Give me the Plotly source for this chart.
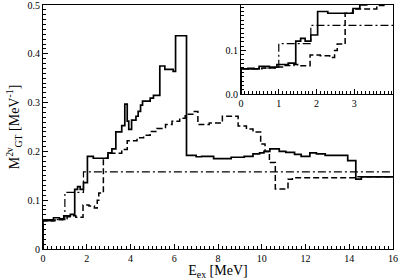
import plotly.graph_objects as go

# Solid line (step starts, values)
solid_x = [0, 0, 0.48, 0.75, 0.95, 1.25, 1.45, 1.58, 1.7, 1.85, 2.03, 2.3, 2.97, 3.15, 3.33, 3.6, 3.74, 3.85, 3.92,
           4.05, 4.25, 4.35, 4.46, 4.55, 4.9, 5.05, 5.34, 5.57, 5.95, 6.06, 6.56, 7.0, 7.25, 7.8, 8.6, 9.2, 9.6,
           9.9, 10.1, 10.37, 10.8, 11.1, 11.5, 11.8, 12.2, 12.5, 12.9, 13.93, 14.3, 14.55, 16]
solid_y = [0, 0.058, 0.064, 0.062, 0.068, 0.071, 0.122, 0.128, 0.122, 0.136, 0.19, 0.186, 0.197, 0.205, 0.24, 0.253, 0.297, 0.262, 0.245,
           0.264, 0.272, 0.282, 0.295, 0.303, 0.309, 0.315, 0.375, 0.368, 0.364, 0.437, 0.192, 0.189, 0.19, 0.185, 0.188, 0.19, 0.195,
           0.197, 0.2, 0.205, 0.2, 0.198, 0.194, 0.19, 0.197, 0.195, 0.192, 0.181, 0.143, 0.148, 0.148]

# Dashed line
dash_x = [0, 0, 0.55, 0.9, 1.1, 1.4, 1.5, 1.83, 2.1, 2.35, 2.48, 2.55, 2.76, 2.96, 3.6, 3.85, 4.3, 4.6, 4.9, 5.2, 5.6,
          5.9, 6.25, 6.5, 6.85, 7.08, 7.6, 8.2, 8.92, 9.3, 9.6, 9.95, 10.15, 10.35, 10.62, 11.2, 11.4, 14.4, 16]
dash_y = [0, 0.058, 0.06, 0.062, 0.066, 0.068, 0.065, 0.09, 0.088, 0.084, 0.1, 0.115, 0.186, 0.196, 0.204, 0.222, 0.228, 0.233, 0.241, 0.247, 0.255,
          0.262, 0.268, 0.276, 0.282, 0.255, 0.258, 0.272, 0.252, 0.246, 0.24, 0.215, 0.2, 0.177, 0.123, 0.143, 0.146, 0.148, 0.148]

# Dash-dot line
dd_x = [0, 0, 1.0, 1.85, 16]
dd_y = [0, 0.06, 0.116, 0.158, 0.158]

fig = go.Figure()
for xa, ya in [("x", "y"), ("x2", "y2")]:
    fig.add_trace(go.Scatter(x=solid_x, y=solid_y, mode="lines", line_shape="hv",
                             line=dict(color="black", width=1.7), xaxis=xa, yaxis=ya, showlegend=False))
    fig.add_trace(go.Scatter(x=dash_x, y=dash_y, mode="lines", line_shape="hv",
                             line=dict(color="black", width=1.5, dash="6px,3px"), xaxis=xa, yaxis=ya, showlegend=False))
    fig.add_trace(go.Scatter(x=dd_x, y=dd_y, mode="lines", line_shape="hv",
                             line=dict(color="black", width=1.2, dash="8px,3px,2px,3px"), xaxis=xa, yaxis=ya, showlegend=False))

axis_common = dict(showgrid=False, zeroline=False, showline=True, linecolor="black", linewidth=1,
                   mirror=True, ticks="inside", tickcolor="black", ticklen=5, automargin=False,
                   ticklabeloverflow="allow",
                   tickfont=dict(family="Liberation Serif", size=10, color="black"))

fig.update_layout(
    template="none",
    width=399, height=280,
    margin=dict(l=43, r=6, t=5, b=31, pad=0),
    paper_bgcolor="white", plot_bgcolor="white",
    font=dict(family="Liberation Serif", color="black"),
    xaxis=dict(range=[0, 16], dtick=2, domain=[0, 1],
               minor=dict(dtick=0.2, ticklen=3, ticks="inside", tickcolor="black"),
               title=dict(text="E<sub>ex</sub> [MeV]", font=dict(size=14), standoff=2),
               **axis_common),
    yaxis=dict(range=[0, 0.5], dtick=0.1, domain=[0, 1],
               minor=dict(dtick=0.01, ticklen=3, ticks="inside", tickcolor="black"),
               title=dict(text="M<sup>2ν</sup><sub>GT</sub> [MeV<sup>-1</sup>]", font=dict(size=14), standoff=4),
               **axis_common),
    xaxis2=dict(range=[0, 4.03], tickvals=[0, 1, 2, 3], domain=[0.566, 1], anchor="y2",
                minor=dict(dtick=0.1, ticklen=3, ticks="inside", tickcolor="black"),
                **axis_common),
    yaxis2=dict(range=[0, 0.205], tickvals=[0, 0.1], tickformat=".1f", domain=[0.635, 1], anchor="x2",
                minor=dict(dtick=0.01, ticklen=3, ticks="inside", tickcolor="black"),
                **axis_common),
)
fig.add_shape(type="rect", xref="x2 domain", yref="y2 domain", x0=0, x1=1, y0=0, y1=1,
              fillcolor="white", line=dict(width=0), layer="below")

fig.write_html("out.html", config={"displayModeBar": False, "staticPlot": True},
               post_script="document.body.style.margin='0';document.body.style.overflow='hidden';")
